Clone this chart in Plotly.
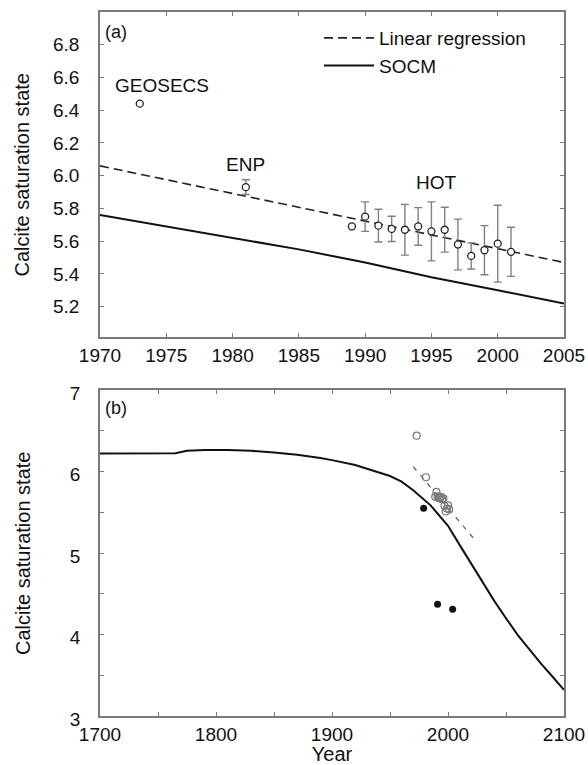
import plotly.graph_objects as go

# ---------------- data ----------------
geosecs_year = [1973]
geosecs_val = [6.44]
enp_year = [1981]
enp_val = [5.93]
enp_err = [0.045]
hot_years = [1989, 1990, 1991, 1992, 1993, 1994, 1995, 1996, 1997, 1998, 1999, 2000, 2001]
hot_vals = [5.69, 5.75, 5.695, 5.675, 5.67, 5.69, 5.66, 5.67, 5.58, 5.51, 5.545, 5.585, 5.535]
hot_err = [None, 0.09, 0.10, 0.077, 0.155, 0.115, 0.18, 0.137, 0.155, 0.08, 0.15, 0.235, 0.15]

reg_years_a = [1970, 2005]
reg_vals_a = [6.06, 5.47]
reg_years_b = [1970, 2025]
reg_vals_b = [6.06, 5.13]

socm_years_a = [1970, 1975, 1980, 1985, 1990, 1995, 2000, 2005]
socm_vals_a = [5.76, 5.69, 5.62, 5.55, 5.47, 5.38, 5.30, 5.22]

socm_years_b = [1700, 1765, 1775, 1790, 1810, 1830, 1850, 1870, 1890, 1900, 1920, 1940,
                1950, 1960, 1970, 1985, 2000, 2010, 2020, 2030, 2040, 2050, 2060, 2070,
                2080, 2090, 2100]
socm_vals_b = [6.22, 6.225, 6.255, 6.265, 6.265, 6.255, 6.235, 6.205, 6.165, 6.14, 6.08, 5.995,
               5.945, 5.875, 5.77, 5.585, 5.335, 5.10, 4.865, 4.635, 4.41, 4.20, 3.995, 3.82,
               3.645, 3.485, 3.32]

filled_years = [1979, 1991, 2004]
filled_vals = [5.55, 4.37, 4.31]

y_title = "Calcite saturation state"
x_title = "Year"

FONT = "Liberation Sans, Arial, Helvetica, sans-serif"
AX = "#7a7a7a"
ERR = "#808080"

fig = go.Figure()

# ---------- panel (a) ----------
fig.add_trace(go.Scatter(x=reg_years_a, y=reg_vals_a, mode="lines", name="Linear regression",
                         line=dict(color="#222", width=1.6, dash="9px,5px"),
                         xaxis="x", yaxis="y", showlegend=True))
fig.add_trace(go.Scatter(x=socm_years_a, y=socm_vals_a, mode="lines", name="SOCM",
                         line=dict(color="#111", width=2.0),
                         xaxis="x", yaxis="y", showlegend=True))
fig.add_trace(go.Scatter(x=geosecs_year, y=geosecs_val, mode="markers",
                         marker=dict(symbol="circle", size=7, color="white",
                                     line=dict(color="#222", width=1.3)),
                         xaxis="x", yaxis="y", showlegend=False))
fig.add_trace(go.Scatter(x=enp_year, y=enp_val, mode="markers",
                         error_y=dict(type="data", array=enp_err, color=ERR, thickness=1.4, width=4),
                         marker=dict(symbol="circle", size=7, color="white",
                                     line=dict(color="#222", width=1.3)),
                         xaxis="x", yaxis="y", showlegend=False))
fig.add_trace(go.Scatter(x=hot_years, y=hot_vals, mode="markers",
                         error_y=dict(type="data", array=hot_err, color=ERR, thickness=1.4, width=4),
                         marker=dict(symbol="circle", size=7, color="white",
                                     line=dict(color="#222", width=1.3)),
                         xaxis="x", yaxis="y", showlegend=False))

# ---------- panel (b) ----------
fig.add_trace(go.Scatter(x=socm_years_b, y=socm_vals_b, mode="lines",
                         line=dict(color="#111", width=2.0),
                         xaxis="x2", yaxis="y2", showlegend=False))
fig.add_trace(go.Scatter(x=reg_years_b, y=reg_vals_b, mode="lines",
                         line=dict(color="#666", width=1.3, dash="5px,6px"),
                         xaxis="x2", yaxis="y2", showlegend=False))
fig.add_trace(go.Scatter(x=geosecs_year + enp_year + hot_years,
                         y=geosecs_val + enp_val + hot_vals, mode="markers",
                         marker=dict(symbol="circle-open", size=7, color="#777",
                                     line=dict(width=1.2)),
                         xaxis="x2", yaxis="y2", showlegend=False))
fig.add_trace(go.Scatter(x=filled_years, y=filled_vals, mode="markers",
                         marker=dict(symbol="circle", size=7, color="#111"),
                         xaxis="x2", yaxis="y2", showlegend=False))

common_ax = dict(showgrid=False, zeroline=False, showline=True, linecolor=AX, linewidth=1.5,
                 mirror="ticks", ticks="inside", ticklen=4, tickcolor=AX, tickwidth=1.2,
                 automargin=False,
                 tickfont=dict(family=FONT, size=19, color="#111"))

TOP_DOM = [0.5384, 1]
BOT_DOM = [0, 0.463]

fig.update_layout(
    template="none",
    width=588, height=765,
    margin=dict(l=100, r=24, t=12, b=49),
    paper_bgcolor="white", plot_bgcolor="white",
    font=dict(family=FONT, color="#111"),
    xaxis=dict(common_ax, domain=[0, 1], range=[1970, 2005], anchor="y",
               tickvals=[1970, 1975, 1980, 1985, 1990, 1995, 2000, 2005], ticklabelstandoff=0),
    yaxis=dict(common_ax, domain=TOP_DOM, range=[5.015, 7.0], anchor="x",
               tickvals=[5.2, 5.4, 5.6, 5.8, 6.0, 6.2, 6.4, 6.6, 6.8], tickformat=".1f",
               ticklabelstandoff=15),
    xaxis2=dict(common_ax, domain=[0, 1], range=[1700, 2100], anchor="y2",
                tickvals=[1700, 1800, 1900, 2000, 2100],
                minor=dict(tickvals=[1750, 1850, 1950, 2050], ticks="inside", ticklen=4,
                           tickcolor=AX, tickwidth=1.2),
                ticklabelstandoff=0,
                title=dict(text=x_title, font=dict(family=FONT, size=20), standoff=4)),
    yaxis2=dict(common_ax, domain=BOT_DOM, range=[3, 7], anchor="x2",
                tickvals=[3, 4, 5, 6, 7],
                minor=dict(tickvals=[3.5, 4.5, 5.5, 6.5], ticks="inside", ticklen=4,
                           tickcolor=AX, tickwidth=1.2),
                ticklabelstandoff=14, ticklabelshift=3),
    legend=dict(x=0.472, y=0.99, xanchor="left", yanchor="top", bgcolor="rgba(0,0,0,0)",
                font=dict(family=FONT, size=19, color="#111"), itemwidth=50,
                tracegroupgap=0),
    showlegend=True,
    annotations=[
        dict(text=y_title, textangle=-90, x=-0.166, xref="paper", xanchor="center",
             y=sum(TOP_DOM) / 2, yref="paper", yanchor="middle", showarrow=False,
             font=dict(family=FONT, size=20)),
        dict(text=y_title, textangle=-90, x=-0.166, xref="paper", xanchor="center",
             y=sum(BOT_DOM) / 2, yref="paper", yanchor="middle", showarrow=False,
             font=dict(family=FONT, size=20)),
        dict(text="(a)", x=1970.2, y=6.88, xref="x", yref="y", xanchor="left",
             showarrow=False, font=dict(family=FONT, size=18)),
        dict(text="(b)", x=1703, y=6.78, xref="x2", yref="y2", xanchor="left",
             showarrow=False, font=dict(family=FONT, size=18)),
        dict(text="GEOSECS", x=1974.7, y=6.55, xref="x", yref="y",
             showarrow=False, font=dict(family=FONT, size=19)),
        dict(text="ENP", x=1981.0, y=6.07, xref="x", yref="y",
             showarrow=False, font=dict(family=FONT, size=19)),
        dict(text="HOT", x=1995.4, y=5.96, xref="x", yref="y",
             showarrow=False, font=dict(family=FONT, size=19)),
    ],
)

fig.write_html("out.html", config={"displayModeBar": False},
               post_script="document.body.style.margin='0';")
